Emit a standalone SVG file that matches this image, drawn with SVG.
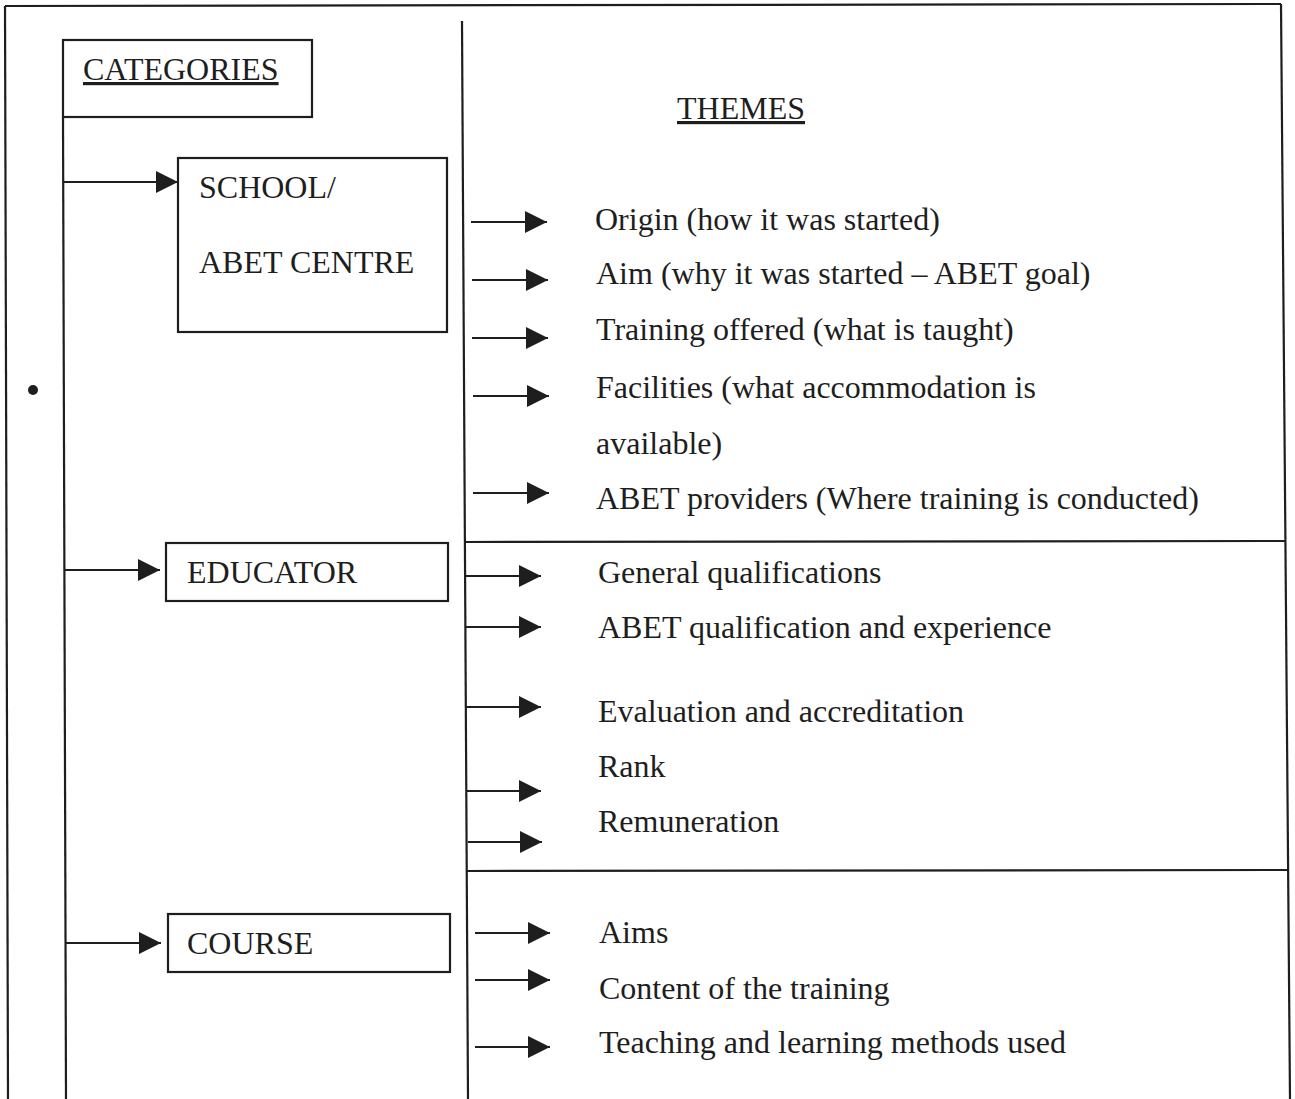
<svg xmlns="http://www.w3.org/2000/svg" width="1295" height="1099" viewBox="0 0 1295 1099">
<style>
  .ln{stroke:#1e1e1e;stroke-width:2.2;fill:none}
  .box{stroke:#1e1e1e;stroke-width:2.2;fill:none}
  .t{font-family:"Liberation Serif","Times New Roman",serif;font-size:32px;fill:#1e1e1e}
  .u{text-decoration:underline}
  .ar{stroke:#1e1e1e;stroke-width:2.2;fill:none;marker-end:url(#ah)}
</style>
<defs>
  <marker id="ah" markerUnits="userSpaceOnUse" markerWidth="22" markerHeight="22" refX="22" refY="11" orient="auto" viewBox="0 0 22 22">
    <path d="M0,0 L22,11 L0,22 z" fill="#1e1e1e"/>
  </marker>
</defs>
<rect width="1295" height="1099" fill="#ffffff"/>
<g id="frame">
  <line class="ln" x1="5" y1="6" x2="1281" y2="4"/>
  <line class="ln" x1="5" y1="6" x2="8" y2="1099"/>
  <line class="ln" x1="1281" y1="4" x2="1290" y2="1099"/>
  <line class="ln" x1="462" y1="21" x2="468" y2="1099"/>
  <line class="ln" x1="465" y1="542" x2="1285" y2="541"/>
  <line class="ln" x1="467" y1="871" x2="1288" y2="870"/>
  <line class="ln" x1="63" y1="117" x2="66" y2="1099"/>
  <circle cx="33" cy="390" r="5" fill="#1e1e1e"/>
</g>
<g id="categories">
  <rect class="box" x="63" y="40" width="249" height="77"/>
  <text class="t u" x="83" y="80">CATEGORIES</text>
</g>
<g id="themes-header">
  <text class="t u" x="677" y="119">THEMES</text>
</g>
<g id="school">
  <rect class="box" x="178" y="158" width="269" height="174"/>
  <text class="t" x="199" y="198">SCHOOL/</text>
  <text class="t" x="199" y="273">ABET CENTRE</text>
</g>
<g id="educator">
  <rect class="box" x="166" y="543" width="282" height="58"/>
  <text class="t" x="187" y="583">EDUCATOR</text>
</g>
<g id="course">
  <rect class="box" x="168" y="914" width="282" height="58"/>
  <text class="t" x="187" y="954">COURSE</text>
</g>
<g id="school-themes">
  <text class="t" x="595" y="230">Origin (how it was started)</text>
  <text class="t" x="596" y="284">Aim (why it was started – ABET goal)</text>
  <text class="t" x="596" y="340">Training offered (what is taught)</text>
  <text class="t" x="596" y="398">Facilities (what accommodation is</text>
  <text class="t" x="596" y="454">available)</text>
  <text class="t" x="596" y="509">ABET providers (Where training is conducted)</text>
</g>
<g id="educator-themes">
  <text class="t" x="598" y="583">General qualifications</text>
  <text class="t" x="598" y="638">ABET qualification and experience</text>
  <text class="t" x="598" y="722">Evaluation and accreditation</text>
  <text class="t" x="598" y="777">Rank</text>
  <text class="t" x="598" y="832">Remuneration</text>
</g>
<g id="course-themes">
  <text class="t" x="599" y="943">Aims</text>
  <text class="t" x="599" y="999">Content of the training</text>
  <text class="t" x="599" y="1053">Teaching and learning methods used</text>
</g>
<g id="connectors">
  <line class="ar" x1="64" y1="182" x2="178" y2="182"/>
  <line class="ar" x1="64" y1="570" x2="160" y2="570"/>
  <line class="ar" x1="66" y1="943" x2="161" y2="943"/>
  <line class="ar" x1="471" y1="222" x2="547" y2="222"/>
  <line class="ar" x1="472" y1="280" x2="548" y2="280"/>
  <line class="ar" x1="472" y1="338" x2="548" y2="338"/>
  <line class="ar" x1="473" y1="396" x2="549" y2="396"/>
  <line class="ar" x1="473" y1="493" x2="549" y2="493"/>
  <line class="ar" x1="466" y1="576" x2="541" y2="576"/>
  <line class="ar" x1="466" y1="627" x2="541" y2="627"/>
  <line class="ar" x1="466" y1="707" x2="541" y2="707"/>
  <line class="ar" x1="467" y1="791" x2="541" y2="791"/>
  <line class="ar" x1="468" y1="842" x2="542" y2="842"/>
  <line class="ar" x1="475" y1="933" x2="550" y2="933"/>
  <line class="ar" x1="475" y1="980" x2="550" y2="980"/>
  <line class="ar" x1="475" y1="1047" x2="550" y2="1047"/>
</g>
</svg>
